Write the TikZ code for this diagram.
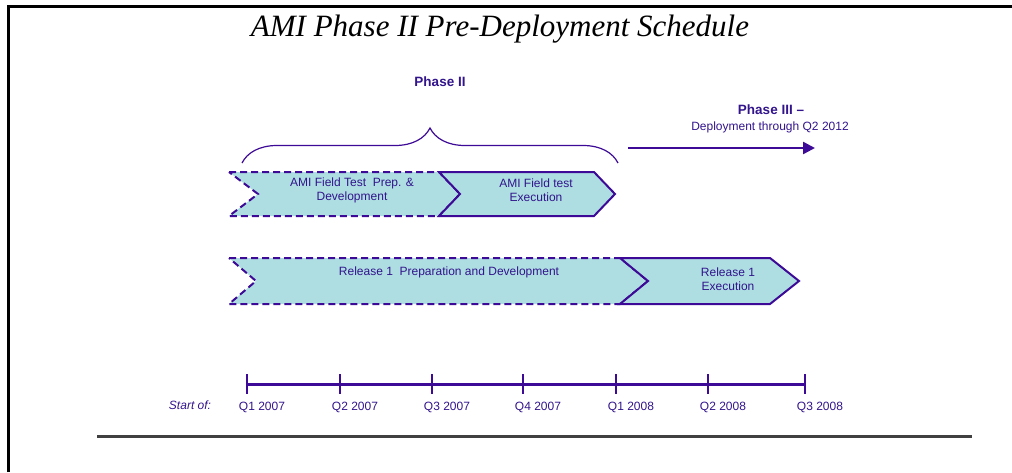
\documentclass[tikz,border=0pt]{standalone}
\usepackage{fontspec}
\setmainfont{Liberation Sans}
\newfontfamily\titlefont{Liberation Serif}
\usetikzlibrary{decorations.pathreplacing,arrows.meta}
\definecolor{amiline}{RGB}{60,10,150}
\definecolor{amifill}{RGB}{174,222,226}
\definecolor{amitext}{RGB}{50,20,140}
\begin{document}
\begin{tikzpicture}
  [x=1pt,y=-1pt,
  txt/.style={text=amitext,font=\fontsize{12}{14}\selectfont,align=center,inner sep=0pt},
  phase/.style={text=amitext,font=\fontsize{13.5}{16}\selectfont\bfseries,inner sep=0pt},
  prep/.style={draw=amiline,fill=amifill,line width=2pt,dash pattern=on 7pt off 4pt},
  exec/.style={draw=amiline,fill=amifill,line width=2pt,line join=miter},
  arc/.style={-{Triangle[length=12pt,width=12pt]},draw=amiline,line width=2.5pt},
  brace/.style={decorate,decoration={brace,amplitude=35pt},draw=amiline,line width=1.2pt},
  tick/.style={draw=amiline,line width=2.5pt},
  qlabel/.style={text=amitext,font=\fontsize{12}{14}\selectfont,inner sep=0pt}]

  \useasboundingbox (0,0) rectangle (1012,472);
  \draw [line width=3pt] (8.5,472) -- (8.5,6.5) -- (1012,6.5);

  \node (title) [anchor=base,font=\titlefont\itshape\fontsize{31}{36}\selectfont] at (500,36) {AMI Phase II Pre-Deployment Schedule};

  % phase labels
  \node (ph2) [phase] at (440,82) {Phase II};
  \node (ph3) [phase] at (771,110) {Phase III --};
  \node (ph3d) [txt] at (770,127) {Deployment through Q2 2012};

  \coordinate (B1) at (242,163);
  \coordinate (B2) at (618,163);
  \coordinate (A1) at (628,148);
  \coordinate (A2) at (815,148);
  \draw [brace] (B1) -- (B2);
  \draw [arc] (A1) -- (A2);

  % field test row
  \draw [prep] (229,172) -- (439,172) -- (460,194) -- (439,216) -- (229,216) -- (258,194) -- cycle;
  \draw [exec] (439,172) -- (594,172) -- (615,194) -- (594,216) -- (439,216) -- (460,194) -- cycle;
  \node (ftprep) [txt] at (352,190) {AMI Field Test\ \ Prep. \&\\Development};
  \node (ftexec) [txt] at (536,190) {AMI Field test\\Execution};

  % release row
  \draw [prep] (229,258) -- (620,258) -- (648,281) -- (620,304) -- (229,304) -- (256,281) -- cycle;
  \draw [exec] (620,258) -- (770,258) -- (799,281) -- (770,304) -- (620,304) -- (648,281) -- cycle;
  \node (relprep) [txt] at (449,272) {Release 1\ \ Preparation and Development};
  \node (relexec) [txt] at (728,279) {Release 1\\Execution};

  % time line
  \coordinate (t1) at (247,384);
  \coordinate (t2) at (340,384);
  \coordinate (t3) at (432,384);
  \coordinate (t4) at (523,384);
  \coordinate (t5) at (616,384);
  \coordinate (t6) at (708,384);
  \coordinate (t7) at (805,384);
  \draw [tick,line width=3pt] (t1) -- (t7);
  \draw [tick] ([yshift=10pt]t1) -- ([yshift=-10pt]t1);
  \draw [tick] ([yshift=10pt]t2) -- ([yshift=-10pt]t2);
  \draw [tick] ([yshift=10pt]t3) -- ([yshift=-10pt]t3);
  \draw [tick] ([yshift=10pt]t4) -- ([yshift=-10pt]t4);
  \draw [tick] ([yshift=10pt]t5) -- ([yshift=-10pt]t5);
  \draw [tick] ([yshift=10pt]t6) -- ([yshift=-10pt]t6);
  \draw [tick] ([yshift=10pt]t7) -- ([yshift=-10pt]t7);

  \node (start) [qlabel,font=\fontsize{12}{14}\selectfont\itshape] at (190,405) {Start of:};
  \node (q1) [qlabel] at (262,407) {Q1 2007};
  \node (q2) [qlabel] at (355,407) {Q2 2007};
  \node (q3) [qlabel] at (447,407) {Q3 2007};
  \node (q4) [qlabel] at (538,407) {Q4 2007};
  \node (q5) [qlabel] at (631,407) {Q1 2008};
  \node (q6) [qlabel] at (723,407) {Q2 2008};
  \node (q7) [qlabel] at (820,407) {Q3 2008};

  \draw [line width=2.5pt,draw=black!75] (97,436.5) -- (972,436.5);
\end{tikzpicture}
\end{document}
